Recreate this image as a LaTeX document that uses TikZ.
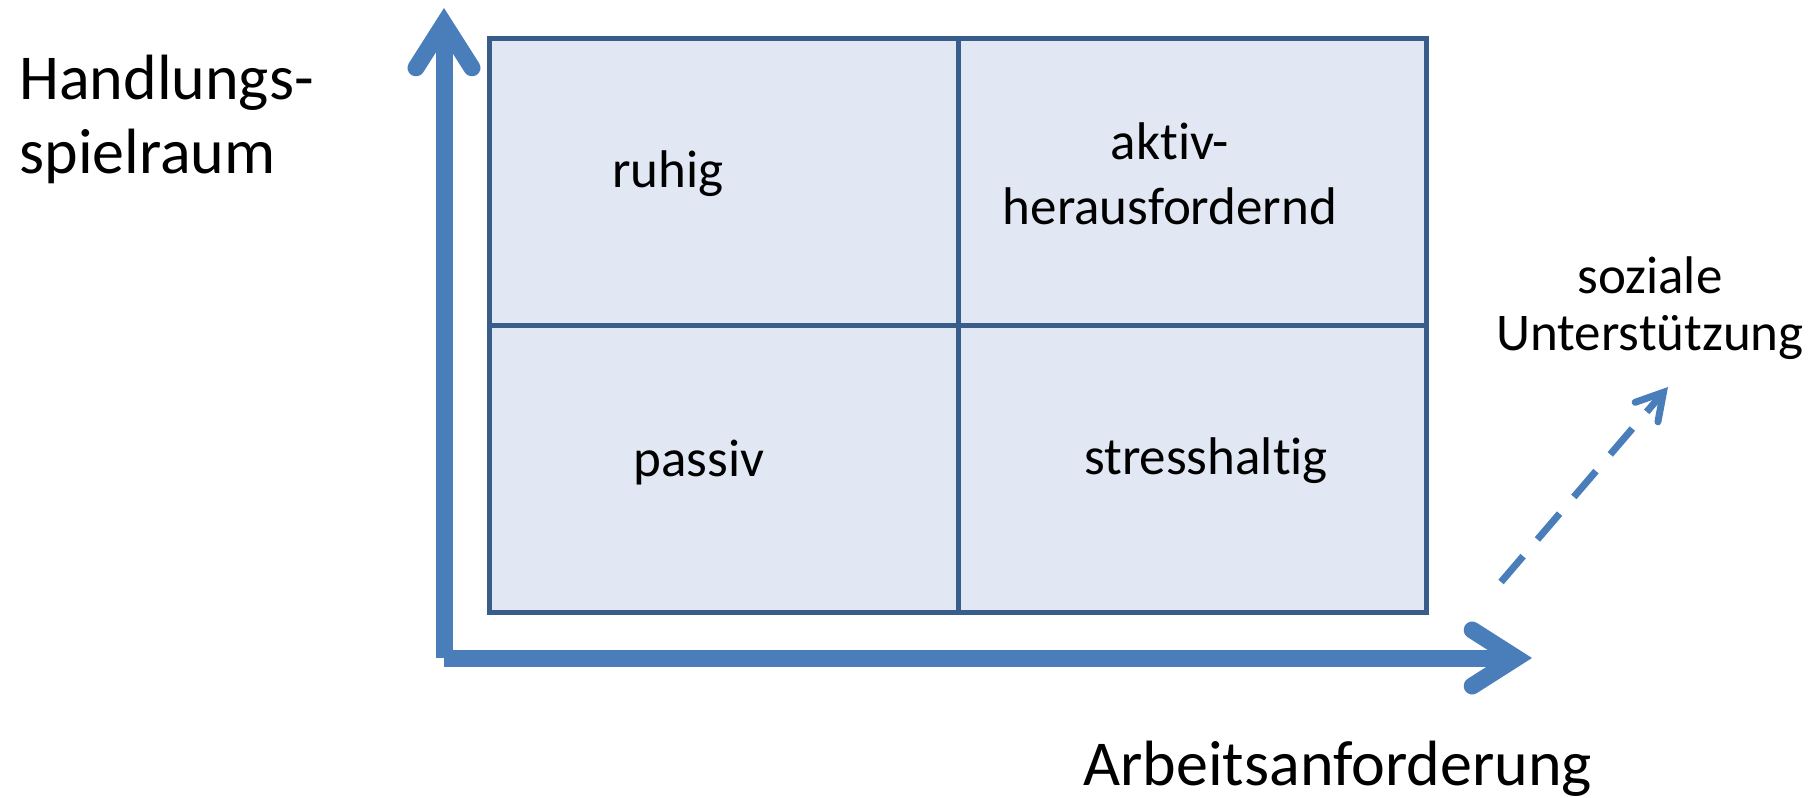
\documentclass[tikz,border=0pt]{standalone}
\usepackage{fontspec}
\setmainfont{Carlito}[Ligatures=NoCommon]
\usetikzlibrary{arrows.meta}
\definecolor{axisblue}{RGB}{74,126,187}
\definecolor{gridblue}{RGB}{56,93,138}
\definecolor{cellfill}{RGB}{225,232,244}
\tikzstyle{axisarrow} = [line width=8.5pt,draw=axisblue,-{Straight Barb[length=22pt,width=28pt,line cap=round,line join=miter]}]
\tikzstyle{supportarrow} = [line width=3.5pt,draw=axisblue,dash pattern=on 17pt off 11pt,-{Straight Barb[length=13pt,width=15pt,line cap=round,line join=miter]}]
\tikzstyle{field} = [line width=2.5pt,draw=gridblue,fill=cellfill]
\tikzstyle{gridline} = [line width=2.5pt,draw=gridblue]
\tikzstyle{quadtext} = [inner sep=0pt,font=\fontsize{26.5}{32.5}\selectfont,align=center]
\tikzstyle{sidetext} = [inner sep=0pt,font=\fontsize{26.5}{28.5}\selectfont,align=center]
\tikzstyle{axislabel} = [inner sep=0pt,font=\fontsize{32}{37}\selectfont,align=left]

\begin{document}
\begin{tikzpicture}[x=0.5pt,y=-0.5pt]
  \useasboundingbox (0,0) rectangle (1812,798);
  \coordinate (O) at (444,658);
  \coordinate (ytip) at (444,8);
  \coordinate (xtip) at (1532,658);
  \coordinate (fieldNW) at (489.5,38);
  \coordinate (fieldSE) at (1426.5,612);
  \coordinate (mid) at (958,325);
  \coordinate (sstart) at (1501,582);
  \coordinate (send) at (1668,387);
  \draw[field] (fieldNW) rectangle (fieldSE);
  \draw[gridline] (mid |- fieldNW) -- (mid |- fieldSE);
  \draw[gridline] (mid -| fieldNW) -- (mid -| fieldSE);
  \draw[axisarrow] (O) -- (ytip);
  \draw[axisarrow] (O) -- (xtip);
  \draw[supportarrow] (sstart) -- (send);
  \node[axislabel,anchor=west] (handlung) at (19,119) {Handlungs-\\spielraum};
  \node[axislabel,anchor=base west] (arbeit) at (1083,785) {Arbeitsanforderung};
  \node[quadtext,anchor=base] (ruhig) at (668,187) {ruhig};
  \node[quadtext] (aktiv) at (1170,174) {aktiv-\\herausfordernd};
  \node[quadtext,anchor=base] (passiv) at (699,476) {passiv};
  \node[quadtext,anchor=base] (stress) at (1206,474) {stresshaltig};
  \node[sidetext] (sozial) at (1650,308) {soziale\\Unterstützung};
\end{tikzpicture}
\end{document}
